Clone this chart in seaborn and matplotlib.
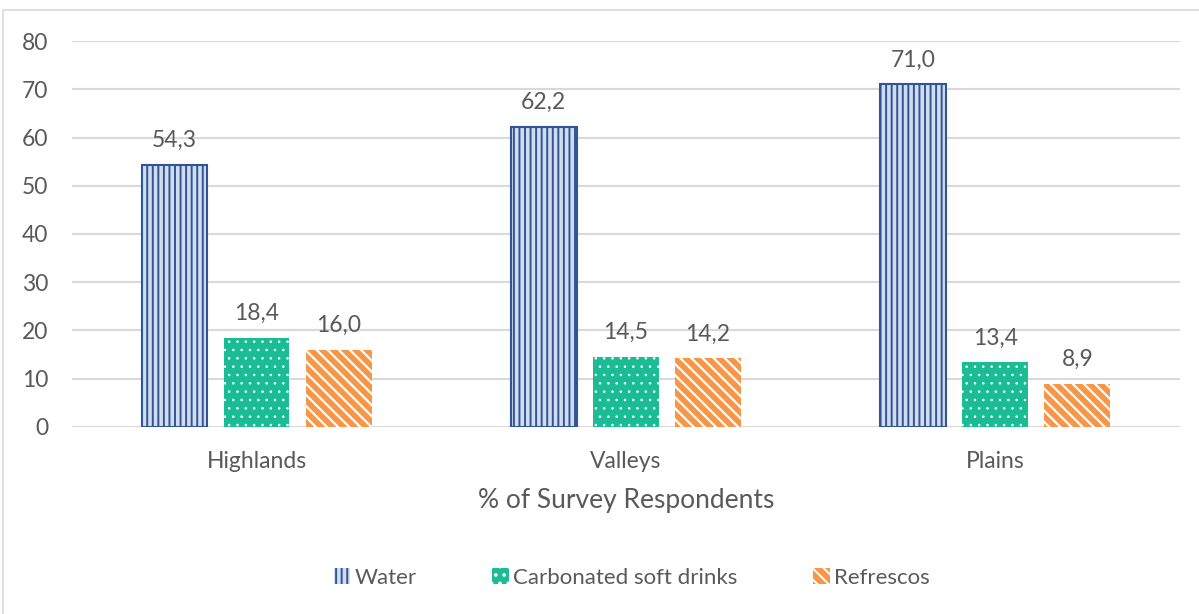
import matplotlib
matplotlib.use("Agg")
import matplotlib.pyplot as plt
from matplotlib.patches import Patch, Rectangle
import seaborn as sns
import pandas as pd

regions = ["Highlands", "Valleys", "Plains"]
drinks = ["Water", "Carbonated soft drinks", "Refrescos"]
water = [54.3, 62.2, 71.0]
carbonated = [18.4, 14.5, 13.4]
refrescos = [16.0, 14.2, 8.9]
y_ticks = [0, 10, 20, 30, 40, 50, 60, 70, 80]
x_title = "% of Survey Respondents"

df = pd.DataFrame({
    "region": regions * 3,
    "drink": [d for d in drinks for _ in regions],
    "pct": water + carbonated + refrescos,
})

sns.set_theme(style="white")
plt.rcParams["font.family"] = ["Lato", "DejaVu Sans"]
plt.rcParams["hatch.linewidth"] = 1.4

text_col = "#595959"
grid_col = "#D9D9D9"
styles = {
    "Water": dict(face="#D3DCEC", hatch_col="#2F5597", hatch="|||", edge="#2F5597", hlw=1.4),
    "Carbonated soft drinks": dict(face="#1ABC94", hatch_col="white", hatch="..", edge=None, hlw=0.6),
    "Refrescos": dict(face="#F79646", hatch_col="white", hatch="\\\\\\", edge=None, hlw=1.6),
}


def style_patch(p, st):
    p.set_facecolor(st["face"])
    p.set_hatch(st["hatch"])
    p.set_edgecolor(st["hatch_col"])
    p.set_linewidth(0)
    if hasattr(p, "set_hatch_linewidth"):
        p.set_hatch_linewidth(st["hlw"])


fig = plt.figure(figsize=(11.99, 6.14), dpi=100)
ax = fig.add_axes([0.060, 0.3046, 0.924, 0.6286])

sns.barplot(data=df, x="region", y="pct", hue="drink", order=regions,
            hue_order=drinks, width=0.667, gap=0.2, ax=ax, legend=False,
            errorbar=None)

for container, drink in zip(ax.containers, drinks):
    st = styles[drink]
    for bar in container:
        style_patch(bar, st)
        if st["edge"] is not None:
            x, y = bar.get_xy()
            ax.add_patch(Rectangle((x, y), bar.get_width(), bar.get_height(),
                                   fill=False, edgecolor=st["edge"],
                                   linewidth=1.5, zorder=bar.get_zorder() + 0.1))
    ax.bar_label(container, labels=[f"{v:.1f}".replace(".", ",") for v in container.datavalues],
                 padding=10, fontsize=16.5, color=text_col)

ax.set_ylim(0, 80)
ax.set_xlim(-0.5, 2.5)
ax.set_yticks(y_ticks)
ax.yaxis.grid(True, color=grid_col, linewidth=1.5)
ax.set_axisbelow(True)
for s in ax.spines.values():
    s.set_visible(False)
ax.tick_params(axis="both", length=0, labelsize=16.5, labelcolor=text_col)
ax.tick_params(axis="y", pad=17)
ax.tick_params(axis="x", pad=17)
ax.set_ylabel("")
ax.set_xlabel(x_title, fontsize=19, color=text_col, labelpad=12)

handles = []
for drink in drinks:
    h = Patch(label=drink)
    style_patch(h, styles[drink])
    handles.append(h)
fig.legend(handles=handles, loc="center", bbox_to_anchor=(0.527, 0.059), ncol=3,
           frameon=False, fontsize=16, labelcolor=text_col, handlelength=0.75,
           handleheight=0.75, handletextpad=0.2, columnspacing=3.4)

fig.add_artist(Rectangle((0.0025, -0.05), 1.1, 1.034, transform=fig.transFigure,
                         fill=False, edgecolor="#D9D9D9", linewidth=1.2))

fig.savefig("out.png", dpi=100)
